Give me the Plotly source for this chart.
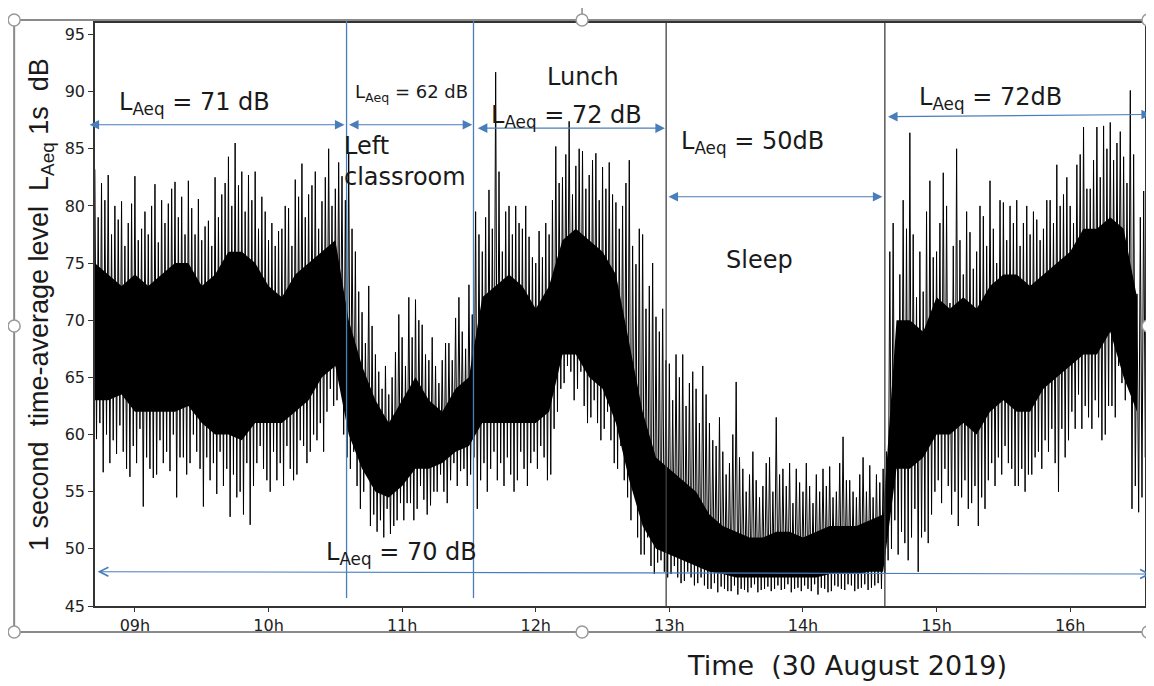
import plotly.graph_objects as go

# ---------------- data ----------------
start_hour = 8.70          # first sample (h)
step_h = 0.05              # 3-minute blocks of the spike envelope

# tallest upward spike in each 3-min block (dB)
spike_hi = [
    # 08:42 - 10:35  (class)
    83.2, 82.0, 82.7, 80.0, 80.4, 78.5, 82.6, 78.0, 77.5, 81.9, 80.5, 80.2, 82.1, 80.8, 82.2, 77.5,
    77.0, 78.7, 82.5, 81.0, 84.3, 85.5, 83.0, 82.7, 83.0, 80.8, 77.0, 76.5, 78.0, 79.8, 82.3, 83.7,
    81.0, 83.0, 80.4, 85.0, 81.5, 82.6,
    # 10:35 - 11:32  (left classroom)
    84.7, 76.0, 70.7, 73.0, 67.0, 64.0, 63.5, 67.2, 68.5, 72.0, 71.8, 69.6, 66.5, 66.0, 66.5, 68.0,
    70.2, 69.0, 73.1,
    # 11:32 - 12:58  (lunch)
    79.5, 76.0, 81.4, 91.7, 76.0, 80.0, 80.0, 78.0, 77.3, 75.0, 75.5, 77.5, 85.2, 82.5, 87.4, 83.5,
    84.8, 82.7, 84.6, 83.4, 83.8, 80.3, 80.0, 84.0, 74.9, 77.5, 73.0, 70.3, 71.0,
    # 12:58 - 14:37  (sleep)
    66.2, 67.0, 67.0, 64.5, 64.0, 66.0, 61.0, 59.0, 58.5, 57.5, 64.6, 57.0, 56.5, 56.0, 55.5, 58.0,
    61.5, 57.0, 57.5, 57.0, 55.0, 55.5, 56.5, 57.0, 57.2, 55.0, 59.8, 56.0, 54.5, 58.0, 57.3, 56.5,
    57.0,
    # 14:37 - 16:33
    76.0, 69.0, 80.5, 86.4, 72.0, 72.5, 82.2, 76.0, 82.9, 71.5, 85.0, 74.0, 77.7, 76.0, 79.1, 82.2,
    75.0, 80.3, 80.0, 80.5, 78.5, 77.5, 78.8, 78.0, 80.5, 83.6, 81.0, 80.0, 83.6, 86.9, 81.5, 86.9,
    87.0, 87.3, 85.5, 84.3, 90.1, 72.3, 81.3,
]
# deepest downward spike in each 3-min block (dB)
spike_lo = [
    59.6, 56.7, 57.5, 58.3, 58.5, 56.3, 57.5, 53.7, 57.0, 56.5, 57.5, 56.8, 54.5, 58.0, 57.5, 58.5,
    53.7, 56.0, 54.8, 55.5, 52.8, 54.5, 53.0, 52.1, 57.5, 57.0, 55.0, 56.0, 55.5, 57.0, 56.5, 59.0,
    58.5, 59.5, 58.5, 64.0, 63.0, 60.0,
    57.0, 55.5, 55.0, 52.0, 51.5, 51.0, 51.3, 52.5, 52.5, 54.0, 53.5, 54.3, 53.8, 55.0, 55.0, 56.0,
    55.5, 57.0, 56.5,
    53.5, 57.5, 57.0, 56.0, 55.5, 56.5, 56.0, 57.0, 57.5, 57.0, 58.0, 56.5, 62.0, 64.5, 65.5, 64.0,
    62.5, 61.5, 61.0, 60.5, 59.5, 57.0, 56.0, 52.5, 51.0, 49.5, 48.5, 48.8, 48.0,
    47.8, 47.5, 47.2, 47.5, 47.0, 46.8, 46.5, 46.2, 46.5, 46.3, 46.0, 46.4, 46.6, 46.2, 46.5, 46.3,
    46.8, 46.5, 46.2, 46.6, 46.8, 46.3, 46.0, 46.5, 46.3, 46.7, 46.4, 46.8, 46.5, 46.9, 46.6, 47.0,
    47.8,
    50.0, 49.5, 50.5, 51.0, 48.0, 51.5, 53.0, 56.0, 57.0, 53.0, 52.0, 56.0, 54.0, 52.0, 53.5, 57.5,
    58.0, 59.0, 57.0, 55.5, 55.0, 56.5, 58.5, 59.5, 60.5, 55.0, 58.0, 62.0, 63.5, 62.5, 60.5, 61.5,
    60.0, 62.5, 66.0, 63.0, 53.5, 53.2, 58.0,
]
# secondary (shorter) upward spike in the second half of each block (dB)
spike_hi2 = [
    79.0, 80.5, 77.5, 78.8, 76.5, 80.2, 77.0, 79.5, 80.0, 76.8, 78.5, 81.5, 79.0, 77.5, 79.8, 80.6,
    78.2, 76.5, 79.0, 82.0, 80.0, 81.8, 79.5, 80.5, 78.0, 79.5, 78.5, 77.8, 80.0, 76.5, 80.8, 79.0,
    81.8, 78.0, 82.5, 80.0, 83.8, 80.5,
    78.0, 72.5, 68.0, 69.5, 65.5, 66.0, 65.0, 70.5, 66.0, 68.5, 70.0, 67.0, 68.5, 64.5, 68.0, 66.5,
    72.0, 67.5, 70.5,
    77.5, 79.0, 78.0, 83.0, 79.5, 77.5, 78.5, 80.0, 75.5, 77.8, 78.5, 80.5, 82.0, 84.5, 81.0, 85.0,
    81.5, 84.0, 80.5, 81.5, 81.0, 78.0, 82.0, 76.5, 78.0, 71.0, 75.0, 69.0, 66.5,
    63.0, 65.0, 62.5, 65.5, 61.0, 63.5, 59.5, 61.5, 56.5, 60.0, 58.0, 55.0, 58.5, 54.5, 57.5, 55.0,
    56.5, 55.5, 54.0, 55.8, 57.5, 54.0, 55.0, 55.5, 54.5, 57.5, 56.0, 55.0, 56.5, 55.0, 54.5, 55.8,
    58.5,
    78.5, 74.0, 78.0, 77.5, 76.0, 79.5, 75.5, 78.5, 80.0, 76.5, 77.0, 79.5, 74.5, 80.0, 76.5, 78.0,
    80.5, 77.0, 78.5, 76.5, 80.0, 79.5, 77.0, 80.5, 78.5, 80.0, 82.5, 78.5, 84.5, 81.5, 84.0, 82.5,
    85.0, 84.0, 86.5, 82.0, 84.5, 79.0, 78.0,
]
# secondary (shallower) downward spike in the second half of each block (dB)
spike_lo2 = [
    61.0, 60.0, 59.5, 60.8, 57.0, 59.0, 60.5, 58.0, 56.2, 59.5, 58.5, 60.0, 58.0, 56.5, 60.0, 57.0,
    58.0, 57.5, 58.5, 57.0, 56.5, 55.0, 57.5, 55.5, 59.0, 56.0, 58.5, 57.5, 59.0, 56.0, 59.5, 57.5,
    60.0, 61.0, 62.0, 62.5, 64.5, 58.0,
    58.5, 53.5, 56.5, 53.0, 52.5, 53.5, 52.0, 54.0, 54.0, 52.5, 55.5, 53.0, 55.0, 56.5, 54.0, 57.5,
    56.8, 55.5, 58.0,
    56.0, 55.0, 58.5, 57.5, 58.0, 55.0, 58.5, 55.5, 58.5, 59.0, 56.0, 60.5, 64.0, 66.0, 63.0, 65.5,
    61.0, 63.0, 59.5, 62.0, 57.5, 59.0, 54.5, 55.0, 49.5, 51.0, 47.8, 49.0, 47.5,
    48.5, 47.0, 48.0, 46.8, 47.5, 46.5, 47.0, 46.7, 46.3, 46.8, 46.5, 46.2, 46.9, 46.4, 46.7, 46.5,
    46.4, 46.9, 46.5, 46.3, 46.5, 46.9, 46.6, 46.2, 46.8, 46.5, 46.9, 46.3, 46.6, 46.4, 46.8, 46.5,
    49.0,
    52.5, 51.5, 49.0, 53.5, 51.0, 50.5, 55.0, 54.0, 55.5, 55.0, 54.5, 53.5, 55.5, 54.5, 56.0, 55.5,
    56.5, 57.5, 55.5, 57.0, 56.5, 58.0, 57.0, 58.5, 57.5, 60.5, 59.5, 60.5, 60.5, 61.5, 63.0, 59.5,
    62.5, 61.5, 64.5, 64.0, 55.5, 54.5, 56.0,
]

# dense (solid) core of the trace, every 6 minutes
core_step_h = 0.10
core_hi = [
    75, 74, 73, 74, 73, 74, 75, 75, 73, 74, 76, 76, 75, 73, 72, 74, 75, 76, 77,
    70, 66, 63, 61, 63, 65, 63, 62, 64, 65,
    72, 73, 74, 73, 71, 73, 77, 78, 77, 76, 74, 68, 62, 58,
    57, 56, 55, 53, 52, 51.5, 51, 51, 51.5, 51.5, 51, 51.5, 52, 52, 52, 52.5, 53,
    70, 70, 69, 72, 71, 72, 71, 73, 74, 74, 73, 74, 75, 76, 78, 78, 79, 78, 72,
]
core_lo = [
    63, 63, 63.5, 62, 62, 62, 62, 62.5, 61, 60, 60, 59.5, 61, 61, 61, 62, 63, 65, 66,
    60, 57, 55, 54.5, 55.5, 57, 57, 57.5, 58.5, 59,
    61, 61, 61, 61, 61, 62, 67, 67, 65, 64, 61, 56, 52, 50,
    49.5, 49, 48.5, 48, 47.8, 47.5, 47.5, 47.5, 47.5, 47.5, 47.5, 47.5, 47.8, 47.8, 47.8, 48, 48,
    57, 57, 58, 60, 60, 61, 60, 62, 63, 62, 62, 64, 65, 66, 67, 67, 69, 65, 62,
]

# activity periods (hours) and their LAeq labels
period_start = [8.649, 10.591, 11.555, 12.982, 14.625]
period_end = [10.569, 11.525, 12.967, 14.595, 16.605]
period_laeq = ["71 dB", "62 dB", "72 dB", "50dB", "72dB"]
period_arrow_db = [(87.1, 87.1), (87.1, 87.1), (86.8, 86.8), (80.8, 80.8), (87.8, 88.0)]
boundaries_blue = [10.584, 11.534]
boundaries_dark = [12.976, 14.613]
total_laeq = "70 dB"
total_span = (8.709, 16.605)
total_arrow_db = (48.0, 47.8)

x_ticks = [9, 10, 11, 12, 13, 14, 15, 16]
x_ticktext = ["09h", "10h", "11h", "12h", "13h", "14h", "15h", "16h"]
y_ticks = [45, 50, 55, 60, 65, 70, 75, 80, 85, 90, 95]

# ---------------- geometry helpers ----------------
# the page body has an 8px margin, so the figure is drawn 8px in from the window corner
OFF = 8
W, H = 1154 - OFF, 686 - OFF
ML, MT = 95 - OFF, 23 - OFF
MR = W - (1147 - OFF)
MB = H - (606 - OFF)
PW, PH = W - ML - MR, H - MT - MB


def pxp(rx):
    """window pixel x -> paper x"""
    return (rx - OFF - ML) / PW


def pyp(ry):
    """window pixel y -> paper y"""
    return (H - MB - (ry - OFF)) / PH


BLUE = "#4a7ebb"
DARK = "#404040"

# ---------------- traces ----------------
zig_x, zig_y = [], []
for i in range(len(spike_hi)):
    t = start_hour + i * step_h
    zig_x += [t, t + step_h * 0.25, t + step_h * 0.5, t + step_h * 0.75]
    zig_y += [spike_hi[i], spike_lo[i], spike_hi2[i], spike_lo2[i]]

core_t = [start_hour + k * core_step_h for k in range(len(core_hi))]

fig = go.Figure()
fig.add_trace(go.Scatter(x=core_t, y=core_lo, mode="lines", line=dict(width=0, color="black"),
                         hoverinfo="skip", showlegend=False))
fig.add_trace(go.Scatter(x=core_t, y=core_hi, mode="lines", line=dict(width=0, color="black"),
                         fill="tonexty", fillcolor="black", hoverinfo="skip", showlegend=False))
fig.add_trace(go.Scatter(x=zig_x, y=zig_y, mode="lines", line=dict(width=1, color="black"),
                         hoverinfo="skip", showlegend=False))

shapes = []
for xb in boundaries_blue:
    shapes.append(dict(type="line", xref="x", yref="paper", x0=xb, x1=xb,
                       y0=pyp(598), y1=pyp(20), line=dict(color=BLUE, width=1.3)))
for xb in boundaries_dark:
    shapes.append(dict(type="line", xref="x", yref="paper", x0=xb, x1=xb,
                       y0=0, y1=1, line=dict(color=DARK, width=1.3)))

# outer selection frame with handles
shapes.append(dict(type="rect", xref="paper", yref="paper", x0=pxp(14), x1=pxp(1150),
                   y0=pyp(632), y1=pyp(20), line=dict(color="#8a8a8a", width=2)))
shapes.append(dict(type="line", xref="paper", yref="paper", x0=pxp(583), x1=pxp(583),
                   y0=pyp(14), y1=pyp(4), line=dict(color="#8a8a8a", width=1.5)))
for cx, cy in [(14, 20), (583, 20), (1150, 20), (14, 326), (1150, 326),
               (14, 632), (583, 632), (1150, 632)]:
    r = 6
    shapes.append(dict(type="circle", xref="paper", yref="paper",
                       x0=pxp(cx - r), x1=pxp(cx + r), y0=pyp(cy + r), y1=pyp(cy - r),
                       line=dict(color="#9a9a9a", width=1.5), fillcolor="white"))

annotations = []
# double-headed period arrows
for s, e, (ya, yb) in zip(period_start, period_end, period_arrow_db):
    annotations.append(dict(x=e, y=yb, ax=s, ay=ya, xref="x", yref="y", axref="x", ayref="y",
                            text="", showarrow=True, arrowhead=2, startarrowhead=2,
                            arrowside="end+start", arrowsize=1.6, startarrowsize=1.6,
                            arrowwidth=1.2, arrowcolor=BLUE, standoff=0, startstandoff=0))
annotations.append(dict(x=total_span[1], y=total_arrow_db[1], ax=total_span[0], ay=total_arrow_db[0],
                        xref="x", yref="y", axref="x", ayref="y", text="", showarrow=True,
                        arrowhead=5, startarrowhead=5, arrowside="end+start", arrowsize=1.6,
                        startarrowsize=1.6, arrowwidth=1.1, arrowcolor=BLUE,
                        standoff=0, startstandoff=0))

LBL = "DejaVu Sans"
texts = [
    ("L<sub>Aeq</sub> = " + period_laeq[0], 195, 104, 24),
    ("L<sub>Aeq</sub> = " + period_laeq[1], 412, 93, 18),
    ("Lunch", 584, 77, 24),
    ("L<sub>Aeq</sub> = " + period_laeq[2], 567, 116, 24),
    ("L<sub>Aeq</sub> = " + period_laeq[3], 754, 142, 24),
    ("Sleep", 761, 260, 24),
    ("L<sub>Aeq</sub> = " + period_laeq[4], 992, 98, 24),
    ("L<sub>Aeq</sub> = " + total_laeq, 402, 553, 24),
]
for txt, cx, cy, fs in texts:
    annotations.append(dict(text=txt, x=pxp(cx), y=pyp(cy), xref="paper", yref="paper",
                            xanchor="center", yanchor="middle", showarrow=False,
                            font=dict(family=LBL, size=fs, color="#1a1a1a")))
annotations.append(dict(text="Left<br>classroom", x=pxp(342), y=pyp(161), xref="paper", yref="paper",
                        xanchor="left", yanchor="middle", align="left", showarrow=False,
                        font=dict(family=LBL, size=24, color="#1a1a1a")))
# axis titles
annotations.append(dict(text="1 second  time-average level  L<sub>Aeq</sub> 1s  dB", textangle=-90,
                        x=pxp(41), y=pyp(305), xref="paper", yref="paper", xanchor="center",
                        yanchor="middle", showarrow=False,
                        font=dict(family="Liberation Sans, Arial", size=27, color="#1a1a1a")))
annotations.append(dict(text="Time  (30 August 2019)", x=pxp(848), y=pyp(665), xref="paper",
                        yref="paper", xanchor="center", yanchor="middle", showarrow=False,
                        font=dict(family=LBL, size=27, color="#1a1a1a")))

fig.update_layout(
    width=W, height=H, margin=dict(l=ML, r=MR, t=MT, b=MB),
    paper_bgcolor="white", plot_bgcolor="white", showlegend=False,
    shapes=shapes, annotations=annotations,
    xaxis=dict(range=[8.7012, 16.560], tickvals=x_ticks, ticktext=x_ticktext,
               ticks="outside", ticklen=4, tickcolor="#333", showgrid=False, zeroline=False,
               showline=True, mirror=True, linecolor="#333", linewidth=1.5,
               tickfont=dict(family=LBL, size=16, color="#222")),
    yaxis=dict(range=[45, 96.0], tickvals=y_ticks, ticks="outside", ticklen=5, tickcolor="#333",
               showgrid=False, zeroline=False, showline=True, mirror=True, linecolor="#333",
               linewidth=1.5, tickfont=dict(family=LBL, size=16, color="#222")),
)

fig.write_html("out.html")
